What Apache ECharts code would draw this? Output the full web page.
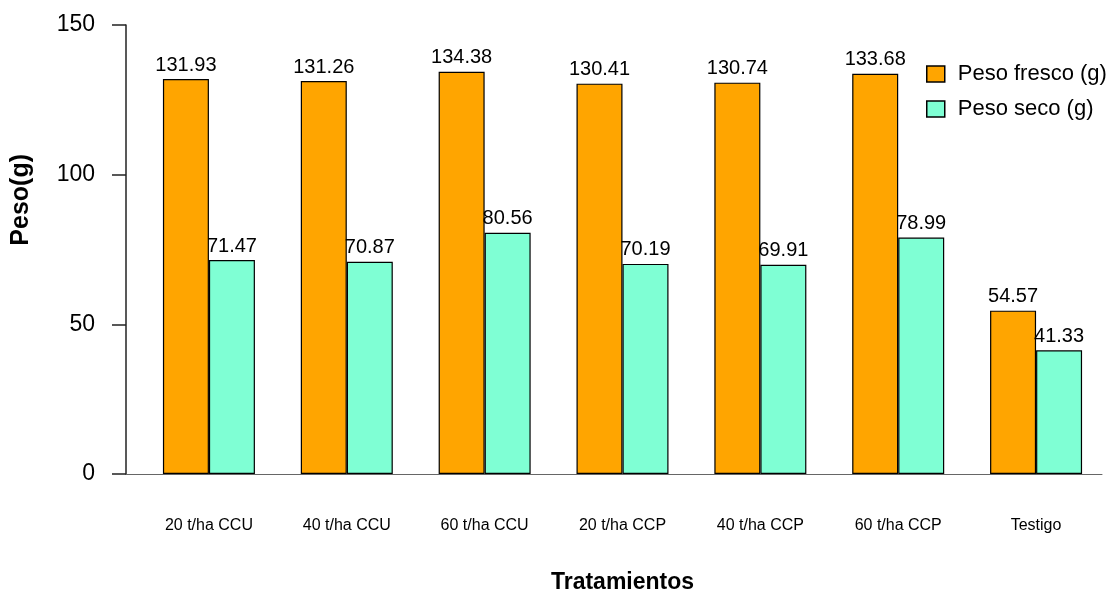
<!DOCTYPE html>
<html>
<head>
<meta charset="utf-8">
<script src="https://cdn.jsdelivr.net/npm/echarts@6/dist/echarts.min.js"></script>
<style>html,body{margin:0;padding:0;background:#fff;}#c{width:1113px;height:593px;}</style>
</head>
<body>
<div id="c"></div>
<script>
const categories = ['20 t/ha CCU', '40 t/ha CCU', '60 t/ha CCU', '20 t/ha CCP', '40 t/ha CCP', '60 t/ha CCP', 'Testigo'];
const pesoFresco = [131.93, 131.26, 134.38, 130.41, 130.74, 133.68, 54.57];
const pesoSeco = [71.47, 70.87, 80.56, 70.19, 69.91, 78.99, 41.33];
const yTicks = [0, 50, 100, 150];

const FONT = 'Liberation Sans, Arial, sans-serif';
const chart = echarts.init(document.getElementById('c'));
const labelOpt = {show: true, position: 'top', distance: 4, color: '#000', fontSize: 20, fontFamily: FONT,
  formatter: p => p.value.toFixed(2)};
chart.setOption({
  animation: false,
  backgroundColor: '#fff',
  legend: {
    orient: 'vertical', left: 921, top: 58, itemWidth: 18, itemHeight: 16, itemGap: 13,
    icon: 'rect',
    itemStyle: {borderColor: '#000', borderWidth: 1.5},
    textStyle: {fontSize: 22, fontFamily: FONT, color: '#000', padding: [0, 0, 0, 8]},
    data: ['Peso fresco (g)', 'Peso seco (g)']
  },
  grid: [
    {left: 126, right: 11, top: 25, bottom: 119, outerBoundsMode: 'none', containLabel: false},
    {left: 140, right: 8, top: 25, bottom: 119, outerBoundsMode: 'none', containLabel: false}
  ],
  xAxis: [
    {type: 'category', gridIndex: 0, data: categories, axisLine: {lineStyle: {color: '#666', width: 1}},
     axisTick: {show: false}, axisLabel: {show: false}},
    {type: 'category', gridIndex: 1, data: categories, axisLine: {show: false}, axisTick: {show: false},
     axisLabel: {margin: 44, fontSize: 16, fontFamily: FONT, color: '#000'},
     name: 'Tratamientos', nameLocation: 'middle', nameGap: 97,
     nameTextStyle: {fontSize: 23, fontWeight: 'bold', fontFamily: FONT, color: '#000'}}
  ],
  yAxis: [
    {type: 'value', gridIndex: 0, min: 0, max: 150, interval: 50, show: false},
    {type: 'value', gridIndex: 1, min: yTicks[0], max: yTicks[yTicks.length - 1], interval: 50, offset: 14,
     axisLine: {show: true, lineStyle: {color: '#222', width: 1.5}},
     axisTick: {show: true, length: 14, lineStyle: {color: '#222', width: 1.5}},
     splitLine: {show: false},
     axisLabel: {margin: 31, fontSize: 23, fontFamily: FONT, color: '#000'}}
  ],
  graphic: [{
    type: 'text', left: 9, top: 154, rotation: Math.PI / 2,
    style: {text: 'Peso(g)', fontSize: 25, fontWeight: 'bold', fontFamily: FONT, fill: '#000'}
  }],
  series: [
    {name: 'Peso fresco (g)', type: 'bar', xAxisIndex: 1, yAxisIndex: 1, data: pesoFresco, barWidth: 46, barGap: '0%',
     itemStyle: {color: '#FFA500', borderColor: '#000', borderWidth: 1.2}, label: labelOpt},
    {name: 'Peso seco (g)', type: 'bar', xAxisIndex: 1, yAxisIndex: 1, data: pesoSeco, barWidth: 46, barGap: '0%',
     itemStyle: {color: '#7FFFD4', borderColor: '#000', borderWidth: 1.2}, label: labelOpt}
  ]
});
</script>
</body>
</html>
